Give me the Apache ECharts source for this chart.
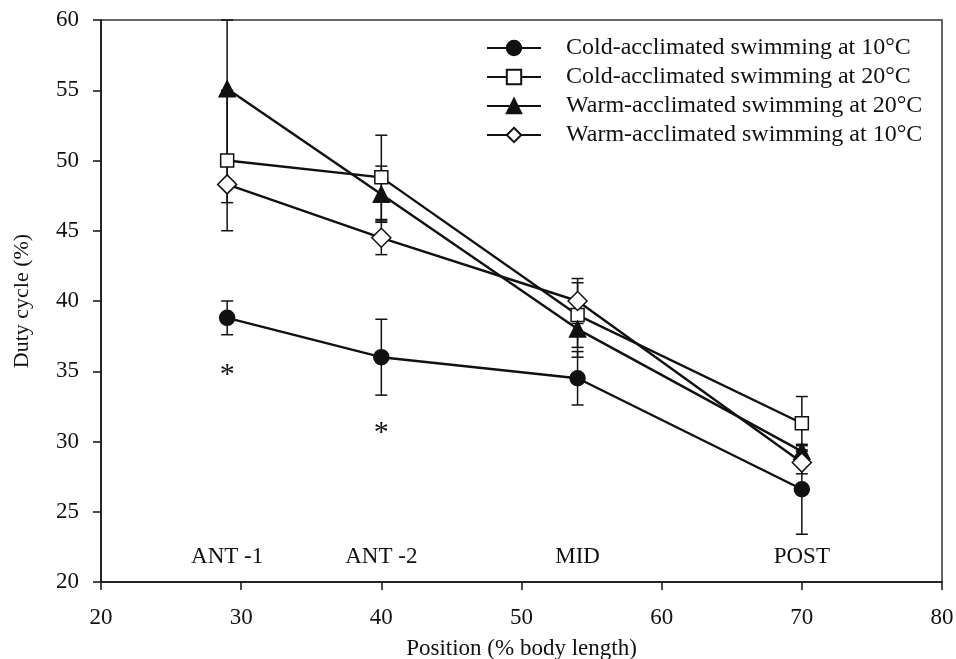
<!DOCTYPE html>
<html>
<head>
<meta charset="utf-8">
<script src="https://cdn.jsdelivr.net/npm/echarts@6/dist/echarts.min.js"></script>
<style>
  html, body { margin: 0; padding: 0; background: #fff; }
  #main { width: 956px; height: 659px; }
</style>
</head>
<body>
<div id="main"></div>
<script>
// positions (% body length)
var positions = [29, 40, 54, 70];
var regionNames = ['ANT -1', 'ANT -2', 'MID', 'POST'];

var seriesNames = [
  'Cold-acclimated swimming at 10°C',
  'Cold-acclimated swimming at 20°C',
  'Warm-acclimated swimming at 20°C',
  'Warm-acclimated swimming at 10°C'
];
var cold10 = [38.8, 36.0, 34.5, 26.6];
var cold10Err = [1.2, 2.7, 1.9, 3.2];
var cold20 = [50.0, 48.8, 39.0, 31.3];
var cold20Err = [5.0, 3.0, 2.3, 1.9];
var warm20 = [55.1, 47.6, 38.0, 29.3];
var warm20Err = [4.9, 2.0, 2.0, 0.4];
var warm10 = [48.3, 44.5, 40.0, 28.5];
var warm10Err = [1.3, 1.2, 1.6, 0.8];

// significance markers
var starX = [29, 40];
var starY = [35.15, 31.0];

var ink = '#111';
var font = '"Liberation Serif", "DejaVu Serif", serif';

var chart = echarts.init(document.getElementById('main'));

function pairs(ys) {
  return ys.map(function (y, i) { return [positions[i], y]; });
}

function errData(ys, es) {
  return ys.map(function (y, i) { return [positions[i], y - es[i], y + es[i]]; });
}

function errSeries(ys, es) {
  return {
    type: 'custom',
    silent: true,
    z: 1,
    data: errData(ys, es),
    renderItem: function (params, api) {
      var lo = api.coord([api.value(0), api.value(1)]);
      var hi = api.coord([api.value(0), api.value(2)]);
      var w = 6;
      var st = { stroke: ink, lineWidth: 1.5 };
      return {
        type: 'group',
        children: [
          { type: 'line', shape: { x1: lo[0], y1: lo[1], x2: hi[0], y2: hi[1] }, style: st },
          { type: 'line', shape: { x1: lo[0] - w, y1: lo[1], x2: lo[0] + w, y2: lo[1] }, style: st },
          { type: 'line', shape: { x1: hi[0] - w, y1: hi[1], x2: hi[0] + w, y2: hi[1] }, style: st }
        ]
      };
    }
  };
}

function lineSeries(name, ys, symbol, size, fill) {
  return {
    name: name,
    type: 'line',
    data: pairs(ys),
    symbol: symbol,
    symbolSize: size,
    showAllSymbol: true,
    z: 3,
    lineStyle: { color: ink, width: 2.4 },
    itemStyle: { color: fill, borderColor: ink, borderWidth: 1.5 }
  };
}

// text placed at data coordinates (asterisks, region names)
function textSeries(pts, size, dy) {
  return {
    type: 'custom',
    silent: true,
    data: pts,
    renderItem: function (params, api) {
      var p = api.coord([api.value(0), api.value(1)]);
      return {
        type: 'text',
        x: p[0], y: p[1] + dy,
        style: {
          text: pts[params.dataIndex][2],
          fill: ink,
          font: size + 'px ' + font,
          align: 'center',
          verticalAlign: 'middle'
        }
      };
    }
  };
}

var option = {
  animation: false,
  textStyle: { fontFamily: font },
  grid: {
    left: 101, right: 14, top: 20, bottom: 77,
    outerBoundsMode: 'none',
    show: true, borderColor: '#666', borderWidth: 2
  },
  legend: {
    orient: 'vertical',
    left: 481, top: 31,
    itemWidth: 54, itemHeight: 18,
    itemGap: 5,
    data: seriesNames,
    textStyle: { fontFamily: font, fontSize: 24, color: ink, padding: [0, 0, 0, 20] }
  },
  xAxis: {
    type: 'value',
    min: 20, max: 80, interval: 10,
    name: 'Position (% body length)',
    nameLocation: 'middle',
    nameGap: 55,
    nameTextStyle: { fontFamily: font, fontSize: 23, color: ink },
    axisLine: { lineStyle: { color: ink, width: 1.5 } },
    axisTick: { show: true, length: 8, lineStyle: { color: ink, width: 1.5 } },
    axisLabel: { fontFamily: font, fontSize: 23, color: ink, margin: 24 },
    splitLine: { show: false }
  },
  yAxis: {
    type: 'value',
    min: 20, max: 60, interval: 5,
    name: 'Duty cycle (%)',
    nameLocation: 'middle',
    nameGap: 68,
    nameTextStyle: { fontFamily: font, fontSize: 22, color: ink },
    axisLine: { lineStyle: { color: ink, width: 1.5 } },
    axisTick: { show: true, length: 8, lineStyle: { color: ink, width: 1.5 } },
    axisLabel: { fontFamily: font, fontSize: 23, color: ink, margin: 22 },
    splitLine: { show: false }
  },
  series: [
    errSeries(cold10, cold10Err),
    errSeries(cold20, cold20Err),
    errSeries(warm20, warm20Err),
    errSeries(warm10, warm10Err),
    lineSeries(seriesNames[0], cold10, 'circle', 15, ink),
    lineSeries(seriesNames[1], cold20, 'rect', 13, '#fff'),
    lineSeries(seriesNames[2], warm20, 'triangle', 16, ink),
    lineSeries(seriesNames[3], warm10, 'diamond', 19, '#fff'),
    textSeries(starX.map(function (x, i) { return [x, starY[i], '*']; }), 30, 6),
    textSeries(positions.map(function (x, i) { return [x, 21.8, regionNames[i]]; }), 23, 0)
  ]
};

chart.setOption(option);
</script>
</body>
</html>
